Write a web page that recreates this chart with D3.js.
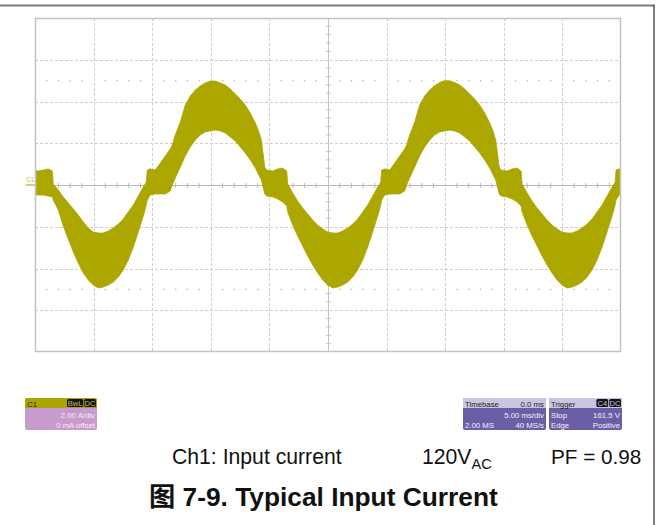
<!DOCTYPE html>
<html><head><meta charset="utf-8">
<script src="https://cdn.jsdelivr.net/npm/d3@7/dist/d3.min.js"></script>
<style>body{margin:0;background:#fff} svg{display:block}</style>
</head><body><svg id="c" width="658" height="525"></svg>
<script>
// ---- data (time in ms, current in A, 2 A/div, 5 ms/div) ----
const timeMs = [
 -25.40,-25.23,-24.72,-24.29,-23.87,-23.52,-23.44,-23.01,-22.59,-22.16,-21.73,-21.31,-20.88,-20.45,-20.03,-19.60,
 -19.17,-18.75,-18.32,-17.89,-17.47,-17.04,-16.61,-16.19,-15.76,-15.50,-15.42,-15.16,-14.74,-14.31,-13.88,-13.46,
 -13.29,-13.03,-12.60,-12.18,-11.75,-11.32,-10.90,-10.47,-10.04,-9.62,-9.19,-8.76,-8.34,-7.91,-7.48,-7.06,-6.63,
 -6.20,-5.95,-5.69,-5.52,
 -5.40,-5.23,-4.72,-4.29,-3.87,-3.52,-3.44,-3.01,-2.59,-2.16,-1.73,-1.31,-0.88,-0.45,-0.03,0.40,
 0.83,1.25,1.68,2.11,2.53,2.96,3.39,3.81,4.24,4.50,4.58,4.84,5.26,5.69,6.12,6.54,
 6.71,6.97,7.40,7.82,8.25,8.68,9.10,9.53,9.96,10.38,10.81,11.24,11.66,12.09,12.52,12.94,13.37,
 13.80,14.05,14.31,14.48,
 14.60,14.77,15.28,15.71,16.13,16.48,16.56,16.99,17.41,17.84,18.27,18.69,19.12,19.55,19.97,20.40,
 20.83,21.25,21.68,22.11,22.53,22.96,23.39,23.81,24.24,24.50,24.58,24.84,25.26
];
const upperA = [
 0.72,0.72,0.67,0.72,0.77,0.67,0.05,-0.24,-0.57,-0.86,-1.15,-1.44,-1.77,-2.06,-2.25,-2.30,
 -2.30,-2.20,-2.06,-1.87,-1.63,-1.29,-0.96,-0.53,-0.10,0.14,0.72,0.77,0.72,1.05,1.39,1.72,
 1.92,2.40,3.02,3.83,4.26,4.55,4.74,4.89,4.98,4.98,4.89,4.79,4.60,4.36,4.12,3.83,3.45,
 2.97,2.63,2.16,1.44,
 0.86,0.72,0.67,0.77,0.81,0.67,0.05,-0.38,-0.77,-1.10,-1.39,-1.68,-1.92,-2.11,-2.25,-2.30,
 -2.30,-2.20,-2.06,-1.87,-1.63,-1.29,-0.96,-0.53,-0.10,0.14,0.72,0.77,0.72,1.05,1.39,1.72,
 1.92,2.40,3.02,3.83,4.26,4.55,4.76,4.91,5.00,5.00,4.91,4.79,4.60,4.36,4.12,3.83,3.45,
 2.97,2.63,2.16,1.44,
 0.86,0.72,0.67,0.77,0.81,0.67,0.05,-0.38,-0.77,-1.10,-1.39,-1.68,-1.92,-2.11,-2.25,-2.30,
 -2.30,-2.20,-2.06,-1.87,-1.63,-1.29,-0.96,-0.53,-0.10,0.14,0.72,0.77,0.72
];
const lowerA = [
 -0.43,-0.48,-0.48,-0.48,-0.53,-0.57,-0.72,-1.20,-1.96,-2.59,-3.21,-3.74,-4.22,-4.55,-4.79,-4.93,
 -4.89,-4.79,-4.65,-4.41,-4.07,-3.59,-2.97,-2.25,-1.49,-0.96,-0.72,-0.48,-0.43,-0.43,-0.43,-0.29,
 0.00,0.34,0.86,1.39,1.82,2.16,2.40,2.54,2.59,2.63,2.59,2.49,2.30,2.11,1.82,1.53,1.20,
 0.81,0.53,0.24,-0.14,
 -0.43,-0.53,-0.57,-0.67,-0.81,-1.01,-1.29,-1.92,-2.44,-2.92,-3.40,-3.83,-4.22,-4.55,-4.79,-4.93,
 -4.89,-4.79,-4.65,-4.41,-4.07,-3.59,-2.97,-2.25,-1.49,-0.96,-0.72,-0.48,-0.43,-0.43,-0.43,-0.29,
 0.00,0.34,0.86,1.39,1.82,2.16,2.40,2.54,2.59,2.63,2.59,2.49,2.30,2.11,1.82,1.53,1.20,
 0.81,0.53,0.24,-0.14,
 -0.43,-0.53,-0.57,-0.67,-0.81,-1.01,-1.29,-1.92,-2.44,-2.92,-3.40,-3.83,-4.22,-4.55,-4.79,-4.93,
 -4.89,-4.79,-4.65,-4.41,-4.07,-3.59,-2.97,-2.25,-1.49,-0.96,-0.72,-0.48,-0.43
];
const timeTicks = [-20,-15,-10,-5,5,10,15,20];
const currentTicks = [-6,-4,-2,2,4,6];
const markerRows = [5,-5];
const legendLine = ["Ch1: Input current", "120V", "AC", "PF = 0.98"];
const caption = "图 7-9. Typical Input Current";
const ch1Box = {name:"C1", tags:["BwL","DC"], lines:["2.00 A/div","0 mA offset"]};
const tbBox = {name:"Timebase", val:"0.0 ms", rows:[["","5.00 ms/div"],["2.00 MS","40 MS/s"]]};
const trgBox = {name:"Trigger", tags:["C4","DC"], rows:[["Stop","161.5 V"],["Edge","Positive"]]};

// ---- drawing ----
const svg = d3.select("#c");
const F = "'Liberation Sans', Arial, 'Noto Sans CJK SC', sans-serif";
const x = d3.scaleLinear().domain([-25,25]).range([35,621]);
const y = d3.scaleLinear().domain([-8,8]).range([352,18]);

svg.append("rect").attr("width",658).attr("height",525).attr("fill","#fff");
// page rules
svg.append("line").attr("x1",0).attr("x2",654).attr("y1",5.5).attr("y2",5.5).attr("stroke","#7a7a7a").attr("stroke-width",2);
svg.append("line").attr("x1",654).attr("x2",654).attr("y1",4.5).attr("y2",525).attr("stroke","#555").attr("stroke-width",1.5);

const g = svg.append("g");
// grid
g.selectAll(".vg").data(timeTicks).join("line")
  .attr("x1",d=>Math.round(x(d))+0.5).attr("x2",d=>Math.round(x(d))+0.5).attr("y1",y(8)).attr("y2",y(-8))
  .attr("stroke","#cdcdcd").attr("stroke-dasharray","3,2");
g.selectAll(".hg").data(currentTicks).join("line")
  .attr("y1",d=>Math.round(y(d))+0.5).attr("y2",d=>Math.round(y(d))+0.5).attr("x1",x(-25)).attr("x2",x(25))
  .attr("stroke","#cdcdcd").attr("stroke-dasharray","3,2");
// marker dotted rows
const minor = d3.range(-24,25,1).filter(v=>v%5!==0);
markerRows.forEach(r=>{
  g.selectAll(null).data(minor).join("rect")
   .attr("x",d=>x(d)-0.6).attr("y",y(r)-0.6).attr("width",1.3).attr("height",1.3).attr("fill","#b4b4b4");
});
// center cross with ticks
const cy = Math.round(y(0))+0.5, cx = Math.round(x(0))+0.5;
g.append("line").attr("x1",x(-25)).attr("x2",x(25)).attr("y1",cy).attr("y2",cy).attr("stroke","#b8b8b8");
g.append("line").attr("y1",y(8)).attr("y2",y(-8)).attr("x1",cx).attr("x2",cx).attr("stroke","#c4c4c4");
g.selectAll(null).data(minor).join("line")
  .attr("x1",d=>x(d)).attr("x2",d=>x(d)).attr("y1",cy-2.5).attr("y2",cy+2.5).attr("stroke","#b8b8b8");
g.selectAll(null).data(d3.range(-7.6,7.7,0.4).filter(v=>Math.abs(Math.round(v/2)*2-v)>0.05)).join("line")
  .attr("y1",d=>y(d)).attr("y2",d=>y(d)).attr("x1",cx-2.5).attr("x2",cx+2.5).attr("stroke","#c4c4c4");

// waveform band
svg.append("clipPath").attr("id","pc").append("rect").attr("x",x(-25)).attr("y",y(8)).attr("width",x(25)-x(-25)).attr("height",y(-8)-y(8));
const pts = timeMs.map((t,i)=>({t, hi:upperA[i], lo:lowerA[i]}));
const area = d3.area().x(d=>x(d.t)).y0(d=>y(d.lo)).y1(d=>y(d.hi)).curve(d3.curveLinear);
svg.append("path").attr("d",area(pts)).attr("fill","#aca700").attr("stroke","#aca700").attr("stroke-width",0.8)
  .attr("clip-path","url(#pc)");

// frame
svg.append("rect").attr("x",x(-25)+0.5).attr("y",y(8)+0.5).attr("width",x(25)-x(-25)-1).attr("height",y(-8)-y(8)-1)
  .attr("fill","none").attr("stroke","#c2c2c2").attr("stroke-width",1.5);

// channel marker
svg.append("line").attr("x1",26).attr("x2",35).attr("y1",y(0)).attr("y2",y(0)).attr("stroke","#c3bc55").attr("stroke-width",1.5);
svg.append("text").attr("x",26).attr("y",y(0)-3).text("C1").attr("font-family",F).attr("font-size",6.5).attr("fill","#c3bc55");

// info boxes
function txt(p,xx,yy,s,anchor,fill,size){
  return p.append("text").attr("x",xx).attr("y",yy).text(s).attr("text-anchor",anchor||"start")
   .attr("font-family",F).attr("font-size",size||7.8).attr("fill",fill||"#fff");
}
function tags(p,list,right,yy,fg){
  let xr = right;
  list.slice().reverse().forEach(s=>{
    const w = s.length*4.4+3;
    xr -= w;
    p.append("rect").attr("x",xr).attr("y",yy).attr("width",w).attr("height",8).attr("rx",1.5).attr("fill","#111");
    txt(p,xr+w/2,yy+6.8,s,"middle",fg,7.6);
    xr -= 1;
  });
}
// C1 box
const b1 = svg.append("g");
b1.append("rect").attr("x",25).attr("y",398).attr("width",72).attr("height",32).attr("rx",2).attr("fill","#c89ace");
b1.append("path").attr("d","M25,408 V400 Q25,398 27,398 H95 Q97,398 97,400 V408 Z").attr("fill","#aaa300");
txt(b1,27,406.5,ch1Box.name,"start","#222");
tags(b1,ch1Box.tags,96,399,"#c9c15a");
txt(b1,95,418,ch1Box.lines[0],"end","#f6eef6");
txt(b1,95,428,ch1Box.lines[1],"end","#f6eef6");
// Timebase box
const b2 = svg.append("g");
b2.append("rect").attr("x",463).attr("y",398).attr("width",83).attr("height",32).attr("rx",2).attr("fill","#6c5ea6");
b2.append("path").attr("d","M463,408 V400 Q463,398 465,398 H544 Q546,398 546,400 V408 Z").attr("fill","#cac6e2");
txt(b2,465,406.5,tbBox.name,"start","#222");
txt(b2,544,406.5,tbBox.val,"end","#222");
txt(b2,544,418,tbBox.rows[0][1],"end","#f2f0fa");
txt(b2,465,428,tbBox.rows[1][0],"start","#f2f0fa");
txt(b2,544,428,tbBox.rows[1][1],"end","#f2f0fa");
// Trigger box
const b3 = svg.append("g");
b3.append("rect").attr("x",549).attr("y",398).attr("width",73).attr("height",32).attr("rx",2).attr("fill","#6c5ea6");
b3.append("path").attr("d","M549,408 V400 Q549,398 551,398 H620 Q622,398 622,400 V408 Z").attr("fill","#cac6e2");
txt(b3,551,406.5,trgBox.name,"start","#222");
tags(b3,trgBox.tags,621,399,"#cac6e2");
txt(b3,551,418,trgBox.rows[0][0],"start","#f2f0fa");
txt(b3,620,418,trgBox.rows[0][1],"end","#f2f0fa");
txt(b3,551,428,trgBox.rows[1][0],"start","#f2f0fa");
txt(b3,620,428,trgBox.rows[1][1],"end","#f2f0fa");

// legend line
const ly = 464;
svg.append("text").attr("x",172).attr("y",ly).text(legendLine[0]).attr("font-family",F).attr("font-size",21.2).attr("fill","#111");
const t2 = svg.append("text").attr("x",422).attr("y",ly).attr("font-family",F).attr("font-size",21.2).attr("fill","#111");
t2.append("tspan").text(legendLine[1]);
t2.append("tspan").text(legendLine[2]).attr("font-size",14.5).attr("dy",5);
svg.append("text").attr("x",551).attr("y",ly).text(legendLine[3]).attr("font-family",F).attr("font-size",20.7).attr("fill","#111");
// caption
svg.append("text").attr("x",149).attr("y",506).text(caption).attr("font-family",F).attr("font-weight","bold").attr("font-size",26.3).attr("fill","#111");
</script></body></html>
